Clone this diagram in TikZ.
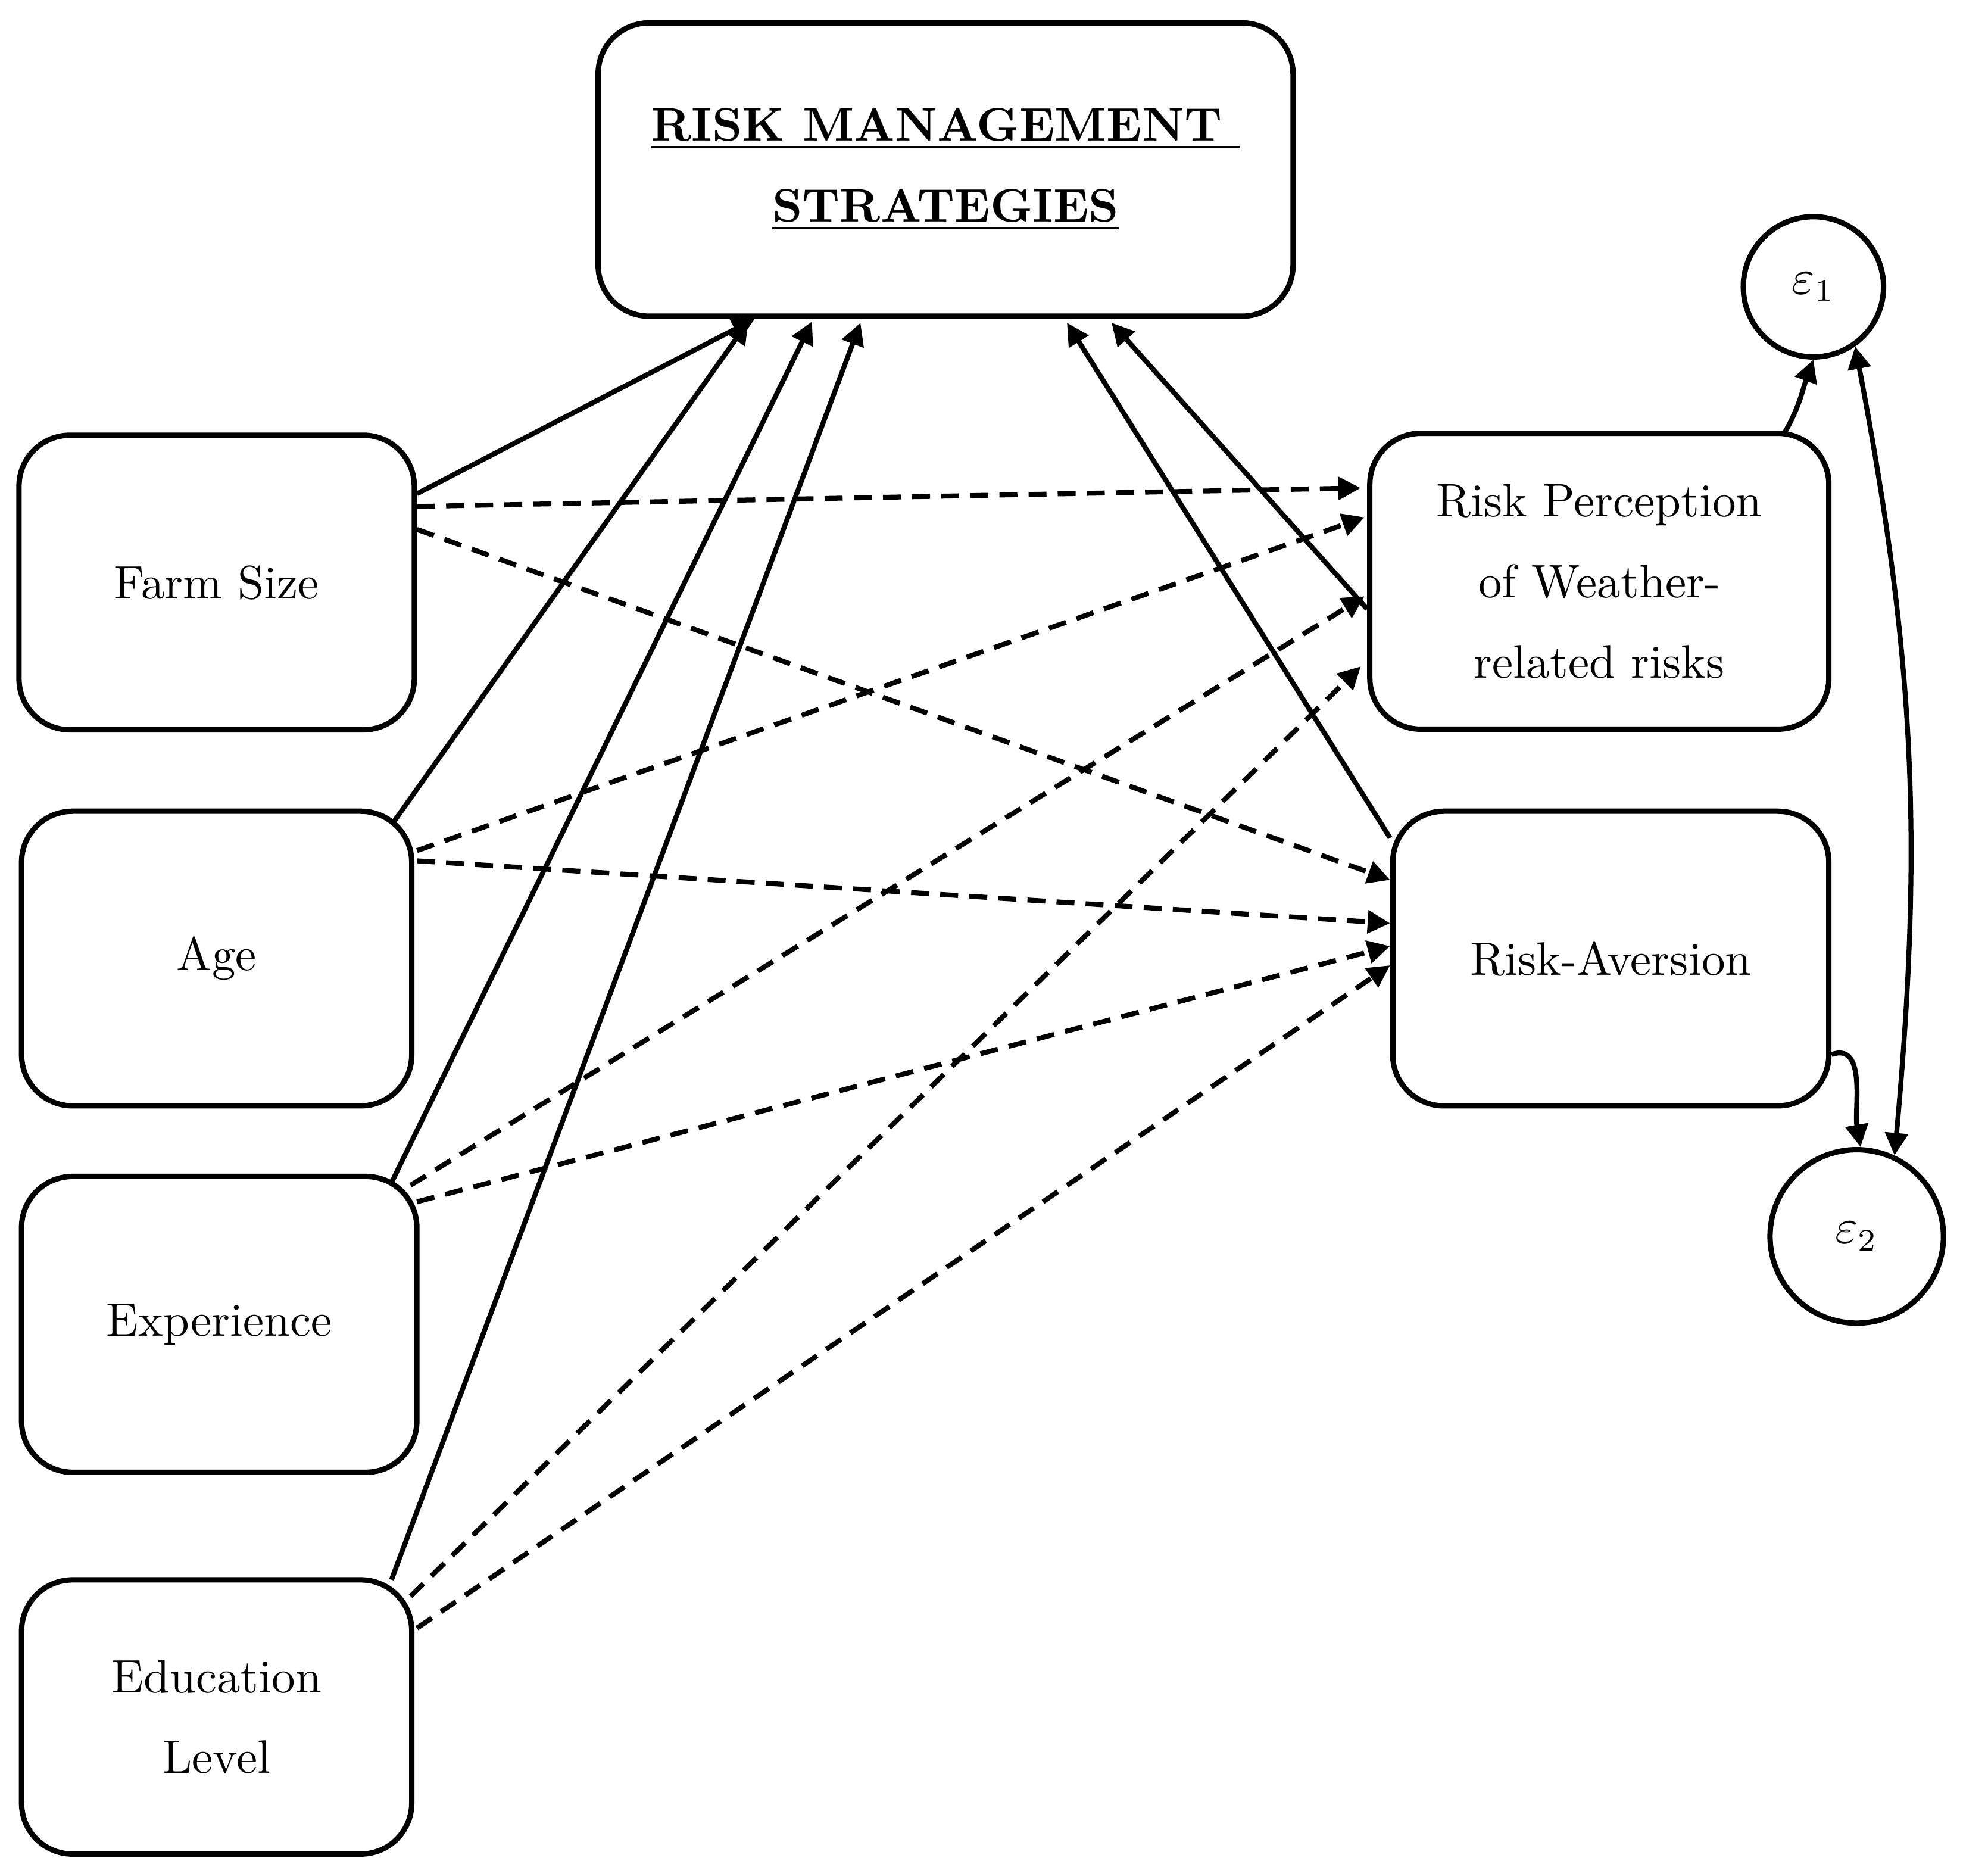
\documentclass[tikz,border=0pt]{standalone}
\usetikzlibrary{calc,arrows.meta}
\begin{document}
\begin{tikzpicture}[x=0.01cm,y=-0.01cm,
  box/.style={draw,line width=1.2pt,rounded corners=0.4cm,align=center,font=\fontsize{10.5}{18}\selectfont,inner sep=0pt},
  circ/.style={draw,circle,line width=1.2pt,inner sep=0pt,font=\fontsize{10.5}{18}\selectfont},
  sol/.style={line width=1.1pt,-{Triangle[length=5pt,width=5pt]}},
  dsh/.style={sol,dash pattern=on 4pt off 2.5pt}]
\useasboundingbox (0,0) rectangle (1560,1460);
\node[box,minimum width=5.45cm,minimum height=2.3cm] (rms) at (742,133) {\textbf{\underline{RISK MANAGEMENT\ }}\\\textbf{\underline{STRATEGIES}}};
\node[box,minimum width=3.1cm,minimum height=2.31cm] (fs) at (170,457) {Farm Size};
\node[box,minimum width=3.06cm,minimum height=2.31cm] (age) at (170,752) {Age};
\node[box,minimum width=3.1cm,minimum height=2.32cm] (exp) at (172,1039) {Experience};
\node[box,minimum width=3.06cm,minimum height=2.15cm] (edu) at (170,1347) {Education\\Level};
\node[box,minimum width=3.6cm,minimum height=2.32cm] (rp) at (1255,456) {Risk Perception\\of Weather-\\related risks};
\node[box,minimum width=3.42cm,minimum height=2.31cm] (ra) at (1264,752) {Risk-Aversion};
\node[circ,minimum size=1.1cm] (e1) at (1423,225) {$\varepsilon_1$};
\node[circ,minimum size=1.36cm] (e2) at (1457,970) {$\varepsilon_2$};
% solid to RMS
\draw[sol] ($(fs.north east)+(0,48)$) -- ($(rms.south west)+(125,0)$);
\draw[sol] ($(age.north east)+(-18,13)$) -- ($(rms.south west)+(120,2)$);
\draw[sol] ($(exp.north east)+(-22,7)$) -- ($(rms.south west)+(170,2)$);
\draw[sol] ($(edu.north east)+(-18,2)$) -- ($(rms.south west)+(208,3)$);
\draw[sol] ($(rp.north west)+(0,140)$) -- ($(rms.south west)+(405,3)$);
\draw[sol] ($(ra.north west)+(0,23)$) -- ($(rms.south west)+(370,3)$);
% dashed
\draw[dsh] ($(fs.north east)+(0,58)$) -- ($(rp.north west)+(-5,45)$);
\draw[dsh] ($(fs.north east)+(0,76)$) -- ($(ra.north west)+(0,56)$);
\draw[dsh] ($(age.north east)+(2,33)$) -- ($(rp.north west)+(-2,68)$);
\draw[dsh] ($(age.north east)+(2,41)$) -- ($(ra.north west)+(0,90)$);
\draw[dsh] ($(exp.north east)+(-7,9)$) -- ($(rp.north west)+(-2,130)$);
\draw[dsh] ($(exp.north east)+(-2,22)$) -- ($(ra.north west)+(0,108)$);
\draw[dsh] ($(edu.north east)+(-3,15)$) -- ($(rp.north west)+(-5,185)$);
\draw[dsh] ($(edu.north east)+(2,40)$) -- ($(ra.north west)+(0,123)$);
% error terms
\draw[sol] ($(rp.north east)+(-37,2)$) to[out=60,in=-110] (e1.south);
\draw[sol] ($(ra.north east)+(0,193)$) to[out=20,in=100] ($(e2.north)+(3,0)$);
\draw[line width=1.1pt,{Triangle[length=5pt,width=5pt]}-{Triangle[length=5pt,width=5pt]}] (e1.-55) to[bend left=8] (e2.65);
\end{tikzpicture}
\end{document}
